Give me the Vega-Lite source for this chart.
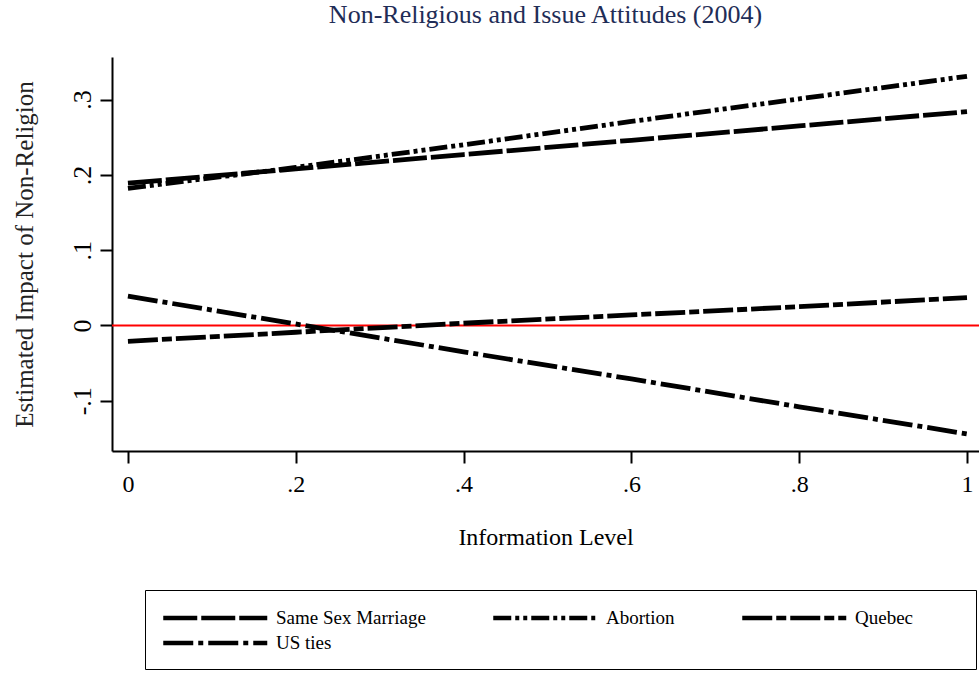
{
  "$schema": "https://vega.github.io/schema/vega-lite/v6.json",
  "width": 867,
  "height": 394,
  "autosize": {"type": "none"},
  "padding": {"left": 112, "top": 57, "right": 0, "bottom": 227},
  "background": "white",
  "title": {
    "text": "Non-Religious and Issue Attitudes (2004)",
    "font": "Liberation Serif",
    "fontSize": 26,
    "fontWeight": "normal",
    "color": "#1f2d57",
    "anchor": "middle",
    "frame": "group",
    "baseline": "alphabetic",
    "offset": 8
  },
  "config": {
    "view": {"stroke": null},
    "axis": {
      "grid": false,
      "domainColor": "black",
      "domainWidth": 2,
      "tickColor": "black",
      "tickWidth": 2,
      "tickSize": 12,
      "labelFont": "Liberation Serif",
      "labelColor": "black",
      "titleFont": "Liberation Serif",
      "titleColor": "black",
      "titleFontWeight": "normal"
    },
    "legend": {
      "labelFont": "Liberation Serif",
      "titleFont": "Liberation Serif"
    }
  },
  "datasets": {
    "lines": [
      {"series": "Same Sex Marriage", "info": 0, "impact": 0.189},
      {"series": "Same Sex Marriage", "info": 0.2, "impact": 0.208},
      {"series": "Same Sex Marriage", "info": 0.4, "impact": 0.227},
      {"series": "Same Sex Marriage", "info": 0.6, "impact": 0.246},
      {"series": "Same Sex Marriage", "info": 0.8, "impact": 0.265},
      {"series": "Same Sex Marriage", "info": 1, "impact": 0.284},
      {"series": "Abortion", "info": 0, "impact": 0.182},
      {"series": "Abortion", "info": 0.2, "impact": 0.210},
      {"series": "Abortion", "info": 0.4, "impact": 0.240},
      {"series": "Abortion", "info": 0.6, "impact": 0.271},
      {"series": "Abortion", "info": 0.8, "impact": 0.301},
      {"series": "Abortion", "info": 1, "impact": 0.331},
      {"series": "Quebec", "info": 0, "impact": -0.021},
      {"series": "Quebec", "info": 0.2, "impact": -0.009},
      {"series": "Quebec", "info": 0.4, "impact": 0.003},
      {"series": "Quebec", "info": 0.6, "impact": 0.014},
      {"series": "Quebec", "info": 0.8, "impact": 0.025},
      {"series": "Quebec", "info": 1, "impact": 0.037},
      {"series": "US ties", "info": 0, "impact": 0.039},
      {"series": "US ties", "info": 0.2, "impact": 0.002},
      {"series": "US ties", "info": 0.4, "impact": -0.035},
      {"series": "US ties", "info": 0.6, "impact": -0.071},
      {"series": "US ties", "info": 0.8, "impact": -0.108},
      {"series": "US ties", "info": 1, "impact": -0.144}
    ]
  },
  "layer": [
    {
      "data": {"values": [{"ref": 0}]},
      "mark": {"type": "rule", "color": "#ff0000", "strokeWidth": 2},
      "encoding": {
        "y": {"field": "ref", "type": "quantitative"}
      }
    },
    {
      "data": {"name": "lines"},
      "mark": {"type": "line", "strokeWidth": 4.8, "strokeCap": "butt", "color": "black"},
      "encoding": {
        "x": {
          "field": "info",
          "type": "quantitative",
          "scale": {"domain": [-0.019, 1.0143], "nice": false, "zero": false},
          "axis": {
            "title": "Information Level",
            "values": [0, 0.2, 0.4, 0.6, 0.8, 1],
            "labelExpr": "replace(format(datum.value, '~g'), '0.', '.')",
            "labelFontSize": 24,
            "labelPadding": 9,
            "titleFontSize": 24,
            "titlePadding": 29
          }
        },
        "y": {
          "field": "impact",
          "type": "quantitative",
          "scale": {"domain": [-0.1667, 0.3566], "nice": false, "zero": false},
          "axis": {
            "title": "Estimated Impact of Non-Religion",
            "values": [-0.1, 0, 0.1, 0.2, 0.3],
            "labelExpr": "replace(replace(format(datum.value, '~g'), '0.', '.'), '\u2212', '-')",
            "labelAngle": -90,
            "labelAlign": "center",
            "labelBaseline": "alphabetic",
            "labelFontSize": 26,
            "labelPadding": 10,
            "titleFontSize": 25,
            "titleColor": "#222222",
            "titlePadding": 32
          }
        },
        "strokeDash": {
          "field": "series",
          "type": "nominal",
          "scale": {
            "domain": ["Same Sex Marriage", "Abortion", "Quebec", "US ties"],
            "range": [[34, 4], [18, 4, 4, 4, 4, 4], [30, 4, 10, 4], [30, 5, 5, 5]]
          },
          "legend": {
            "title": " ",
            "titleOrient": "right",
            "titlePadding": 47,
            "titleFontSize": 10,
            "orient": "none",
            "legendX": 33,
            "legendY": 533,
            "direction": "horizontal",
            "columns": 3,
            "columnPadding": 58,
            "rowPadding": 3,
            "padding": 16,
            "strokeColor": "black",
            "symbolType": "M-1,0H9.67",
            "symbolSize": 380,
            "symbolStrokeWidth": 4.5,
            "symbolStrokeColor": "black",
            "labelOffset": 91,
            "labelFont": "Liberation Serif",
            "labelFontSize": 19,
            "labelColor": "black",
            "labelLimit": 400
          }
        }
      }
    }
  ]
}
